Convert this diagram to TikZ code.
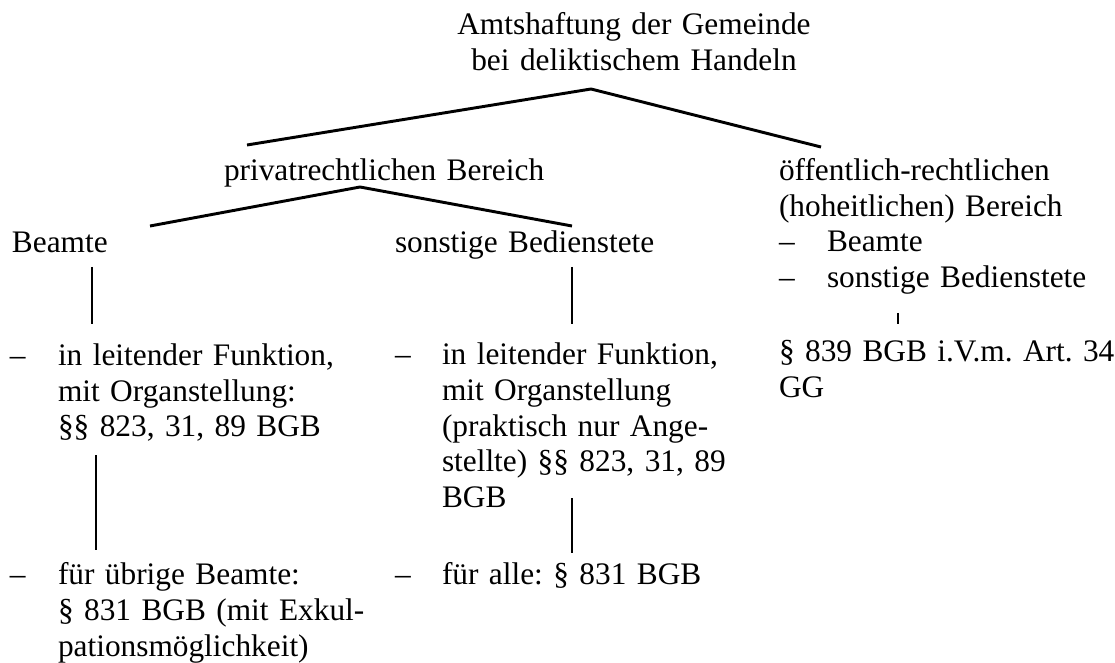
\documentclass[tikz,border=0pt]{standalone}
\usepackage{fontspec}
\setmainfont{Liberation Serif}
\frenchspacing
\begin{document}
\begin{tikzpicture}[x=0.75pt,y=-0.75pt,
  txt/.style={anchor=base west, inner sep=0pt, outer sep=0pt,
    font=\fontsize{23.5}{27}\selectfont, text width=420pt, align=left},
  ctr/.style={anchor=base, inner sep=0pt, outer sep=0pt,
    font=\fontsize{23.5}{27}\selectfont, text width=420pt, align=center},
  bullet/.style={anchor=base west, inner sep=0pt, outer sep=0pt,
    font=\fontsize{23.5}{27}\selectfont},
  link/.style={line width=2.2pt}]
\useasboundingbox (0,0) rectangle (1115,663);

% root
\node[ctr] (root) at (634,35) {Amtshaftung der Gemeinde\\bei deliktischem Handeln};

% second level
\node[txt] (priv) at (224,181) {privatrechtlichen Bereich};
\node[txt] (oeff) at (779,181) {öffentlich-rechtlichen\\(hoheitlichen) Bereich};
\node[bullet] (oeffd1) at (779,252) {–};
\node[txt] (oeffb) at (827,252) {Beamte};
\node[bullet] (oeffd2) at (779,287) {–};
\node[txt] (oeffs) at (827,287) {sonstige Bedienstete};
\node[txt] (oeffr) at (779,362) {§ 839 BGB i.V.m. Art. 34\\GG};

% third level
\node[txt] (beamte) at (12,253) {Beamte};
\node[txt] (sonst) at (395,253) {sonstige Bedienstete};

% Beamte branch
\node[bullet] (bd1) at (10,365) {–};
\node[txt] (b1) at (58,365) {in leitender Funktion,\\mit Organstellung:\\§§ 823, 31, 89 BGB};
\node[bullet] (bd2) at (10,584) {–};
\node[txt] (b2) at (58,584) {für übrige Beamte:\\§ 831 BGB (mit Exkul-\\pationsmöglichkeit)};

% sonstige Bedienstete branch
\node[bullet] (sd1) at (395,364) {–};
\node[txt] (s1) at (442,364) {in leitender Funktion,\\mit Organstellung\\(praktisch nur Ange-\\stellte) §§ 823, 31, 89\\BGB};
\node[bullet] (sd2) at (395,584) {–};
\node[txt] (s2) at (442,584) {für alle: § 831 BGB};

% fork points
\coordinate (rootfork) at (591,89);
\coordinate (rootL) at (247,145);
\coordinate (rootR) at (821,147);
\coordinate (privfork) at (360,187);
\coordinate (privL) at (150,226);
\coordinate (privR) at (572,226);
\coordinate (bTop) at (92,267);
\coordinate (bBot) at (92,324);
\coordinate (b1Bot) at (96,455);
\coordinate (b2Top) at (96,550);
\coordinate (sTop) at (572,267);
\coordinate (sBot) at (572,324);
\coordinate (s1Bot) at (572,498);
\coordinate (s2Top) at (572,553);
\coordinate (oTop) at (898,313);
\coordinate (oBot) at (898,324);

\draw[link] (rootL) -- (rootfork) -- (rootR);
\draw[link] (privL) -- (privfork) -- (privR);
\draw[link] (bTop) -- (bBot);
\draw[link] (b1Bot) -- (b2Top);
\draw[link] (sTop) -- (sBot);
\draw[link] (s1Bot) -- (s2Top);
\draw[link] (oTop) -- (oBot);
\end{tikzpicture}
\end{document}
